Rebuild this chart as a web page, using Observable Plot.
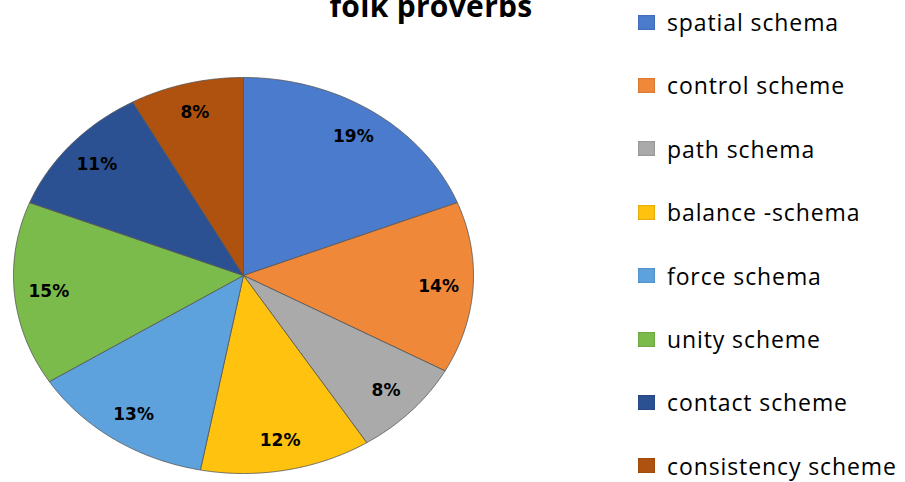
<!DOCTYPE html>
<html>
<head>
<meta charset="utf-8">
<script src="https://cdn.jsdelivr.net/npm/d3@7"></script>
<script src="https://cdn.jsdelivr.net/npm/@observablehq/plot@0.6"></script>
<style>
  body { margin: 0; background: #fff; }
  #wrap { position: relative; width: 905px; height: 482px; overflow: hidden; background: #fff; }
  #title { position: absolute; left: 0; width: 862px; top: -15px; text-align: center;
    font-family: "Open Sans", sans-serif; font-weight: bold; font-size: 30px; color: #000; letter-spacing: 0.3px; }
  #legend { position: absolute; left: 638px; top: 0; font-family: "Open Sans", sans-serif; font-size: 23px; color: #000; letter-spacing: 0.9px; }
  .item { position: absolute; left: 0; white-space: nowrap; display: flex; align-items: center; height: 30px; }
  .sw { width: 17px; height: 15px; margin-right: 12px; box-shadow: inset 0 0 2px rgba(0,0,0,0.35); }
</style>
</head>
<body>
<div id="wrap">
  <div id="chart"></div>
  <div id="title">folk proverbs</div>
  <div id="legend"></div>
</div>
<script>
const categories = ["spatial schema", "control scheme", "path schema", "balance -schema", "force schema", "unity scheme", "contact scheme", "consistency scheme"];
const values = [19, 14, 8, 12, 13, 15, 11, 8];
const labels = ["19%", "14%", "8%", "12%", "13%", "15%", "11%", "8%"];
const colors = ["#4a7bcd", "#f0883a", "#aaaaaa", "#ffc20e", "#5ea2dd", "#7bbb4b", "#2c5193", "#b0520f"];

const arcs = d3.pie().sort(null).value(d => d)(values);
const polys = [];
const labelPts = [];
arcs.forEach((a, i) => {
  const name = categories[i];
  polys.push({name, x: 0, y: 0});
  const n = Math.max(4, Math.ceil((a.endAngle - a.startAngle) / 0.01));
  for (let k = 0; k <= n; k++) {
    const t = a.startAngle + (a.endAngle - a.startAngle) * k / n;
    polys.push({name, x: Math.sin(t), y: Math.cos(t)});
  }
  polys.push({name, x: 0, y: 0});
  const m = (a.startAngle + a.endAngle) / 2;
  labelPts.push({name, text: labels[i], x: 0.85 * Math.sin(m), y: 0.85 * Math.cos(m)});
});

const chart = Plot.plot({
  width: 905,
  height: 482,
  marginLeft: 13,
  marginRight: 432,
  marginTop: 77,
  marginBottom: 9,
  x: {domain: [-1, 1], axis: null},
  y: {domain: [-1, 1], axis: null},
  color: {domain: categories, range: colors},
  marks: [
    Plot.line(polys, {x: "x", y: "y", z: "name", fill: "name", stroke: "#555", strokeWidth: 0.8, curve: "linear"}),
    Plot.text(labelPts, {x: "x", y: "y", text: "text", fill: "#000", fontWeight: "bold", fontSize: 17, fontFamily: "DejaVu Sans, sans-serif"})
  ]
});
document.getElementById("chart").appendChild(chart);

const legend = document.getElementById("legend");
categories.forEach((c, i) => {
  const div = document.createElement("div");
  div.className = "item";
  div.style.top = (22 + i * 63.4 - 15) + "px";
  div.innerHTML = `<div class="sw" style="background:${colors[i]}"></div><span>${c}</span>`;
  legend.appendChild(div);
});
</script>
</body>
</html>
